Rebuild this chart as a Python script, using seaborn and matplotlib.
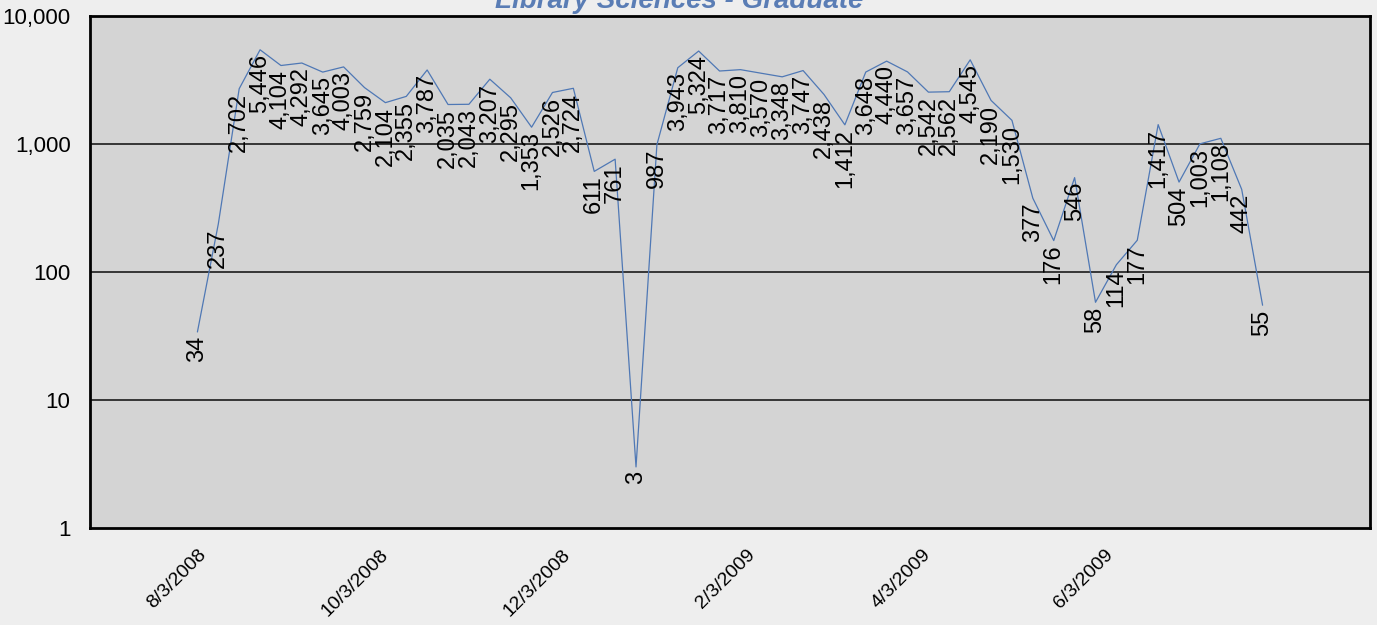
import matplotlib
matplotlib.use("Agg")
import matplotlib.pyplot as plt
import matplotlib.ticker as mticker
import seaborn as sns
import pandas as pd

title = "Library Sciences - Graduate"
start_date = "2008-08-03"
values = [34, 237, 2702, 5446, 4104, 4292, 3645, 4003, 2759, 2104, 2355, 3787,
          2035, 2043, 3207, 2295, 1353, 2526, 2724, 611, 761, 3, 987, 3943,
          5324, 3717, 3810, 3570, 3348, 3747, 2438, 1412, 3648, 4440, 3657,
          2542, 2562, 4545, 2190, 1530, 377, 176, 546, 58, 114, 177, 1417,
          504, 1003, 1108, 442, 55]
tick_dates = ["2008-08-03", "2008-10-03", "2008-12-03", "2009-02-03", "2009-04-03", "2009-06-03"]
tick_labels = ["8/3/2008", "10/3/2008", "12/3/2008", "2/3/2009", "4/3/2009", "6/3/2009"]
y_ticks = [1, 10, 100, 1000, 10000]

dates = pd.date_range(start_date, periods=len(values), freq="7D")
df = pd.DataFrame({"date": dates, "value": values})

sns.set_theme(style="white")
plt.rcParams["font.family"] = ["Liberation Sans", "DejaVu Sans"]

fig = plt.figure(figsize=(13.77, 6.25), dpi=100, facecolor="#eeeeee")
ax = fig.add_axes([90/1377, 1 - 528/625, 1280/1377, 512/625])
ax.set_facecolor("#d4d4d4")

ax.set_yscale("log")
ax.set_ylim(1, 10000)
ax.set_xlim(pd.Timestamp("2008-06-28"), pd.Timestamp("2009-08-31"))

for yv in [10, 100, 1000]:
    ax.axhline(yv, color="#1a1a1a", lw=1.2, zorder=1)

sns.lineplot(data=df, x="date", y="value", ax=ax, color="#4f78b5", lw=0.9, zorder=3)

for d, v in zip(dates, values):
    ax.annotate(f"{v:,}", (d, v), xytext=(0, -3), textcoords="offset points",
                rotation=90, ha="center", va="top", fontsize=17, color="black", zorder=4)

ax.set_yticks(y_ticks)
ax.yaxis.set_major_formatter(mticker.FuncFormatter(lambda v, p: f"{int(round(v)):,}"))
ax.yaxis.set_minor_locator(mticker.NullLocator())
ax.tick_params(axis="y", labelsize=16, length=0, pad=14, colors="black")

ax.set_xticks([pd.Timestamp(t) for t in tick_dates])
ax.set_xticklabels(tick_labels, rotation=45, ha="right", rotation_mode="anchor", fontsize=14)
ax.tick_params(axis="x", direction="inout", length=14, width=1, colors="black", pad=6)

for s in ax.spines.values():
    s.set_color("black")
    s.set_linewidth(2)

ax.set_xlabel("")
ax.set_ylabel("")

fig.text(679/1377, 1 - 8/625, title, ha="center", va="baseline", fontsize=20,
         fontweight="bold", fontstyle="italic", color="#5a7db5")

fig.savefig("out.png", dpi=100, facecolor=fig.get_facecolor())
